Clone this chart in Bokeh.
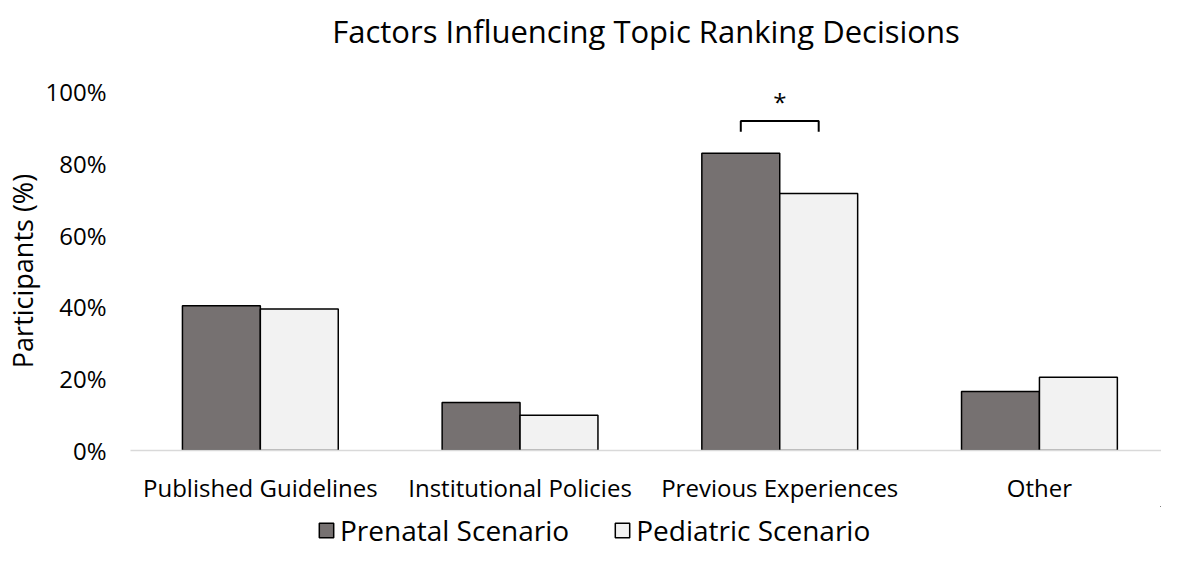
from bokeh.plotting import figure
from bokeh.layouts import column
from bokeh.models import Range1d, FixedTicker, Legend, LegendItem, ColumnDataSource, Title
from bokeh.core.properties import value
from bokeh.transform import dodge
from bokeh.embed import file_html
from bokeh.resources import INLINE

categories = ["Published Guidelines", "Institutional Policies", "Previous Experiences", "Other"]
prenatal = [40.3, 13.4, 82.8, 16.4]
pediatric = [39.4, 9.8, 71.6, 20.4]
series_names = ["Prenatal Scenario", "Pediatric Scenario"]
y_ticks = [0, 20, 40, 60, 80, 100]
significant = ["Previous Experiences"]
title_text = "Factors Influencing Topic Ranking Decisions"

FONT = "Open Sans"
PRE_COLOR = "#767171"
PED_COLOR = "#F2F2F2"

p = figure(frame_width=1031, frame_height=359, x_range=Range1d(-0.5, 3.47), y_range=Range1d(0, 100),
           output_backend="svg", toolbar_location=None,
           min_border_left=130, min_border_right=0, min_border_top=91, min_border_bottom=52,
           title=title_text)
p.title.align = "center"
p.title.text_font = FONT
p.title.text_font_size = "31px"
p.title.text_font_style = "normal"
p.title.text_color = "#000000"
p.title.standoff = 0
# blank spacer placed between the frame and the title
p.add_layout(Title(text=" ", text_font_size="10px", standoff=27), "above")
p.outline_line_color = None
p.grid.visible = False

xs = list(range(len(categories)))
bw = 0.3
src = ColumnDataSource(dict(x=xs, pre=prenatal, ped=pediatric))
p.vbar(x=dodge("x", -bw / 2), top="pre", width=bw, source=src,
       fill_color=PRE_COLOR, line_color="#000000", line_width=1.5)
p.vbar(x=dodge("x", bw / 2), top="ped", width=bw, source=src,
       fill_color=PED_COLOR, line_color="#000000", line_width=1.5)

# significance bracket
for cat in significant:
    i = categories.index(cat)
    top = max(prenatal[i], pediatric[i])
    yb = top + 9
    p.line(x=[i - bw / 2, i - bw / 2, i + bw / 2, i + bw / 2], y=[yb - 3, yb, yb, yb - 3],
           line_color="#000000", line_width=2)
    p.text(x=[i], y=[yb + 5.5], text=["*"], text_align="center", text_baseline="middle",
           text_font=value(FONT), text_font_size="24px", text_color="#000000")

xa = p.xaxis[0]
xa.ticker = FixedTicker(ticks=xs)
xa.major_label_overrides = {i: c for i, c in enumerate(categories)}
xa.major_tick_line_color = None
xa.minor_tick_line_color = None
xa.axis_line_color = "#D9D9D9"
xa.axis_line_width = 1.5
xa.major_label_text_font = FONT
xa.major_label_text_font_size = "24px"
xa.major_label_text_color = "#000000"
xa.major_label_standoff = 14

ya = p.yaxis[0]
ya.ticker = FixedTicker(ticks=y_ticks)
ya.major_label_overrides = {t: f"{t}%" for t in y_ticks}
ya.major_tick_line_color = None
ya.minor_tick_line_color = None
ya.axis_line_color = None
ya.major_label_text_font = FONT
ya.major_label_text_font_size = "24px"
ya.major_label_text_color = "#000000"
ya.major_label_standoff = 18
ya.axis_label = "Participants (%)"
ya.axis_label_text_font = FONT
ya.axis_label_text_font_size = "27px"
ya.axis_label_text_font_style = "normal"
ya.axis_label_text_color = "#000000"
ya.axis_label_standoff = 1

# legend strip below the chart (its swatches come from renderers kept outside the visible range)
leg = figure(width=1161, height=43, x_range=Range1d(-20, -19), y_range=Range1d(-10, -9),
             output_backend="svg", toolbar_location=None, min_border=0)
leg.axis.visible = False
leg.grid.visible = False
leg.outline_line_color = None
l1 = leg.vbar(x=dodge("x", -bw / 2), top="pre", width=bw, source=src,
              fill_color=PRE_COLOR, line_color="#000000", line_width=1.5)
l2 = leg.vbar(x=dodge("x", bw / 2), top="ped", width=bw, source=src,
              fill_color=PED_COLOR, line_color="#000000", line_width=1.5)
legend = Legend(items=[LegendItem(label=series_names[0], renderers=[l1]),
                       LegendItem(label=series_names[1], renderers=[l2])],
                orientation="horizontal", location=(187, 0))
legend.label_text_font = FONT
legend.label_text_font_size = "28px"
legend.label_text_color = "#000000"
legend.glyph_width = 18
legend.glyph_height = 18
legend.spacing = 44
legend.label_standoff = 5
legend.border_line_color = None
legend.background_fill_alpha = 0
legend.margin = 0
legend.padding = 0
leg.add_layout(legend, "center")

layout = column(p, leg, spacing=0)
open("out.html", "w").write(file_html(layout, INLINE))
